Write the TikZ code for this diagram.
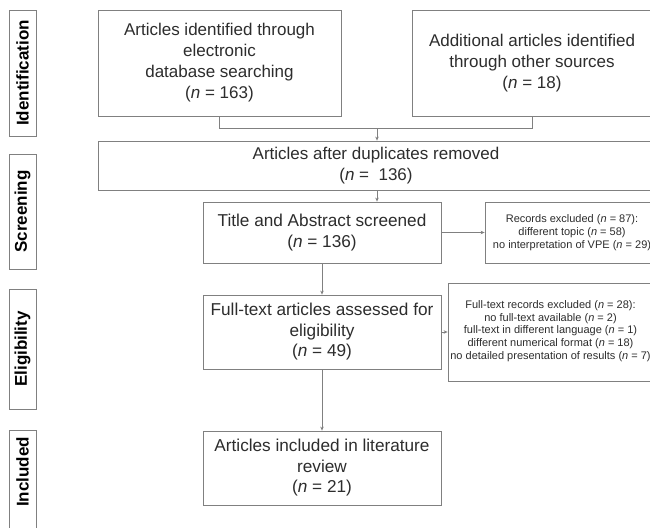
\documentclass[tikz,border=0pt]{standalone}
\usepackage{fontspec}
\setmainfont{Liberation Sans}
\usetikzlibrary{arrows.meta}
\definecolor{edge}{RGB}{128,128,128}
\definecolor{ink}{RGB}{45,45,45}
\begin{document}
\begin{tikzpicture}[x=1pt,y=-1pt,
  boxshape/.style={draw=edge,line width=0.8pt,rectangle,inner sep=0pt},
  bigtext/.style={text=ink,align=center,font=\fontsize{17}{21}\selectfont,inner sep=0pt},
  midtext/.style={text=ink,align=center,font=\fontsize{17.2}{20.5}\selectfont,inner sep=0pt},
  smalltext/.style={text=ink,align=center,font=\fontsize{11}{13}\selectfont,inner sep=0pt},
  phase/.style={draw=edge,line width=0.8pt,rotate=90,minimum height=27pt,inner sep=0pt,font=\bfseries\fontsize{17}{20}\selectfont,text=black},
  phasetext/.style={rotate=90,inner sep=0pt,font=\bfseries\fontsize{17}{20}\selectfont,text=black},
  conn/.style={draw=edge,line width=0.8pt},
  arr/.style={conn,-{Stealth[length=4pt,width=3.5pt]}}]
\useasboundingbox (0,0) rectangle (650,527);
\clip (0,0) rectangle (650,527);
\fill[white] (0,0) rectangle (650,527);

% phase labels
\node[phase,minimum width=126pt] (p1) at (22.5,73) {Identification};
\node[phase,minimum width=115pt] (p2) at (22.5,211.5) {Screening};
\node[phase,minimum width=120pt] (p3) at (22.5,349) {Eligibility};
\node[phase,minimum width=130pt] (p4) at (22.5,495) {};
\node[phasetext] (p4t) at (22.5,472) {Included};

% identification
\node[boxshape,bigtext,minimum width=243pt,minimum height=106pt] (A) at (219.5,63)
  {Articles identified through\\electronic\\database searching\\(\textit{n} = 163)};
\node[boxshape,minimum width=300pt,minimum height=106pt] (B) at (562,63) {};
\node[bigtext] (Bt) at (532,63) {Additional articles identified\\through other sources\\(\textit{n} = 18)};

\node[boxshape,minimum width=602pt,minimum height=49pt] (C) at (399,165.5) {};
\node[bigtext] (Ct) at (376,166) {Articles after duplicates removed\\(\textit{n} =\ \ 136)};

\coordinate (m) at (377,128);
\draw[conn] (A.south) -- (A.south |- m) -- (Bt |- m) -- (Bt |- B.south);
\draw[arr] (m) -- (m |- C.north);

% screening
\node[boxshape,midtext,minimum width=238pt,minimum height=61pt] (T) at (322,232.5)
  {Title and Abstract screened\\(\textit{n} = 136)};
\node[boxshape,minimum width=215pt,minimum height=61pt] (R) at (592.5,232.5) {};
\node[smalltext] (Rt) at (572,233)
  {Records excluded (\textit{n} = 87):\\different topic (\textit{n} = 58)\\no interpretation of VPE (\textit{n} = 29)};
\draw[arr] (C.south -| m) -- (T.north -| m);
\draw[arr] (T.east) -- (R.west);

% eligibility
\node[boxshape,midtext,minimum width=238pt,minimum height=74pt] (F) at (322,332)
  {Full-text articles assessed for\\eligibility\\(\textit{n} = 49)};
\node[boxshape,minimum width=252pt,minimum height=98pt] (X) at (574,332) {};
\node[smalltext,font=\fontsize{11}{12.8}\selectfont] (Xt) at (550.5,331)
  {Full-text records excluded (\textit{n} = 28):\\no full-text available (\textit{n} = 2)\\full-text in different language (\textit{n} = 1)\\different numerical format (\textit{n} = 18)\\no detailed presentation of results (\textit{n} = 7)};
\draw[arr] (T.south) -- (F.north);
\draw[arr] (F.east) -- (X.west);

% included
\node[boxshape,midtext,minimum width=238pt,minimum height=74pt] (I) at (322,468)
  {Articles included in literature\\review\\(\textit{n} = 21)};
\draw[arr] (F.south) -- (I.north);
\end{tikzpicture}
\end{document}
